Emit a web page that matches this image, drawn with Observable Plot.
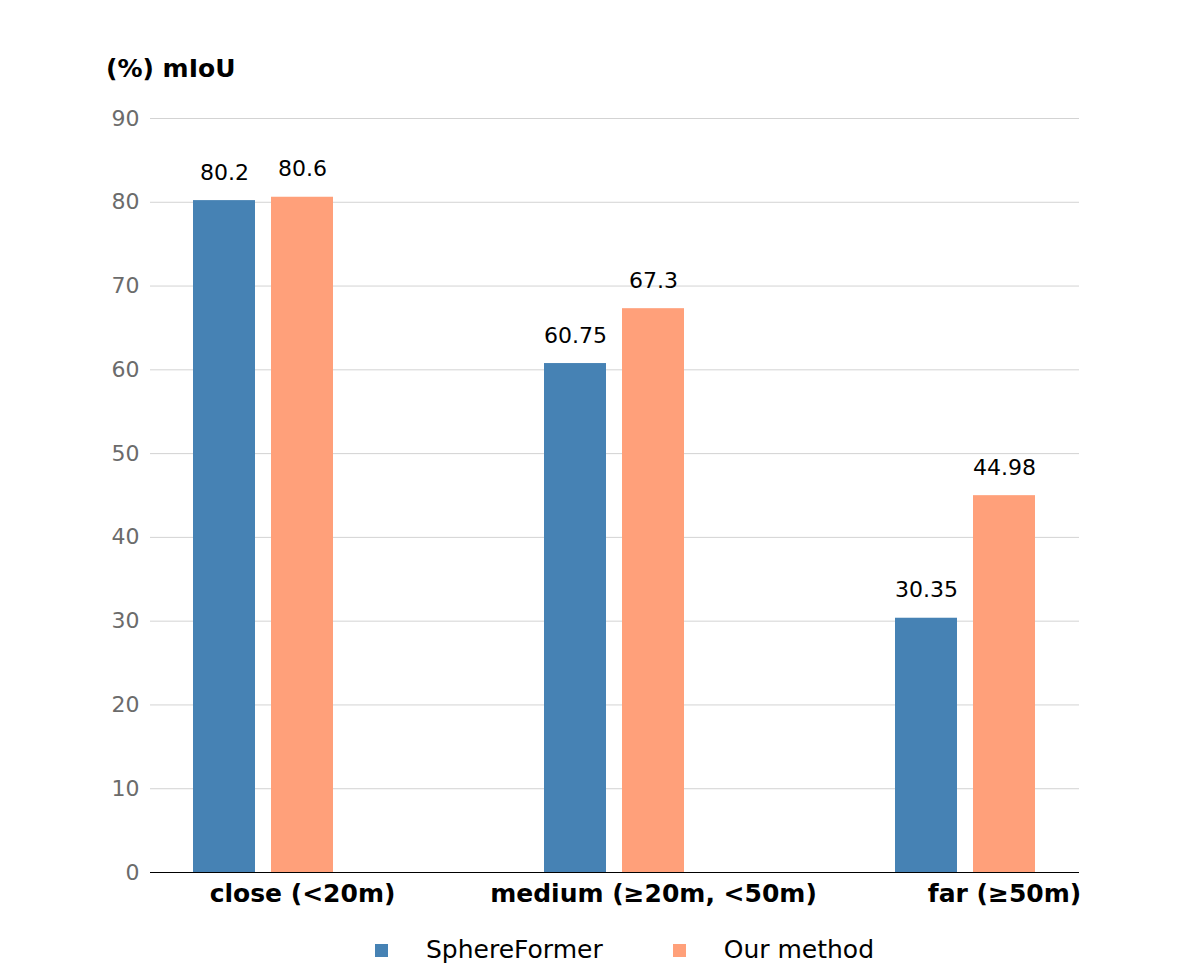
<!DOCTYPE html>
<html>
<head>
<meta charset="utf-8">
<script src="https://cdn.jsdelivr.net/npm/d3@7"></script>
<script src="https://cdn.jsdelivr.net/npm/@observablehq/plot@0.6"></script>
<style>
  body { margin: 0; background: #fff; font-family: "DejaVu Sans", sans-serif; }
  #wrap { position: relative; width: 1199px; height: 980px; overflow: hidden; }
  #ylabel { position: absolute; left: 106px; top: 55px; font-weight: bold; font-size: 25px; line-height: 28px; color: #000; }
  #chart { position: absolute; left: 0; top: 90px; }
  #legend { position: absolute; left: 375px; top: 935px; display: flex; align-items: center; font-size: 25px; line-height: 30px; color: #000; }
  .item { display: flex; align-items: center; margin-right: 70px; }
  .sw { width: 13px; height: 13px; margin-right: 38px; }
</style>
</head>
<body>
<div id="wrap">
  <div id="ylabel">(%) mIoU</div>
  <div id="chart"></div>
  <div id="legend"></div>
</div>
<script>
const categories = ["close (<20m)", "medium (≥20m, <50m)", "far (≥50m)"];
const series = ["SphereFormer", "Our method"];
const colors = ["#4682b4", "#ffa07a"];
const sphereFormerValues = [80.2, 60.75, 30.35];
const ourMethodValues = [80.6, 67.3, 44.98];
const yTicks = [0, 10, 20, 30, 40, 50, 60, 70, 80, 90];

const sphereRows = categories.map((c, i) => ({category: c, series: series[0], value: sphereFormerValues[i]}));
const ourRows = categories.map((c, i) => ({category: c, series: series[1], value: ourMethodValues[i]}));

// within each category band: two bars of equal width separated by a small gap
const barStep = 78;   // px from left edge of first bar to left edge of second
const half = barStep / 2;

const chart = Plot.plot({
  width: 1199,
  height: 830,
  marginLeft: 150,
  marginRight: 120,
  marginTop: 28,
  marginBottom: 48,
  style: {fontFamily: "DejaVu Sans, sans-serif", background: "transparent", overflow: "visible"},
  x: {domain: categories, paddingInner: 0.6, paddingOuter: 0.12, axis: null},
  y: {domain: [0, 90], axis: null},
  color: {domain: series, range: colors},
  marks: [
    Plot.gridY(yTicks, {stroke: "#d3d3d3", strokeOpacity: 1, strokeWidth: 1}),
    Plot.axisY(yTicks, {tickSize: 0, tickPadding: 11, fontSize: 22, color: "#6b6b6b", label: null}),
    Plot.barY(sphereRows, {x: "category", y: "value", fill: "series", insetRight: barStep}),
    Plot.barY(ourRows, {x: "category", y: "value", fill: "series", insetLeft: barStep}),
    Plot.ruleY([0], {stroke: "#000", strokeWidth: 1}),
    Plot.text(sphereRows, {x: "category", y: "value", text: d => String(d.value), dx: -half, dy: -28, fontSize: 22, fill: "#000"}),
    Plot.text(ourRows, {x: "category", y: "value", text: d => String(d.value), dx: half, dy: -28, fontSize: 22, fill: "#000"}),
    Plot.text(ourRows, {x: "category", frameAnchor: "bottom", text: "category", dx: half, dy: 29, fontSize: 25, fontWeight: "bold", fill: "#000"})
  ]
});
document.getElementById("chart").appendChild(chart);

const legend = document.getElementById("legend");
series.forEach((s, i) => {
  const item = document.createElement("div");
  item.className = "item";
  const sw = document.createElement("span");
  sw.className = "sw";
  sw.style.background = colors[i];
  const t = document.createElement("span");
  t.textContent = s;
  item.appendChild(sw);
  item.appendChild(t);
  legend.appendChild(item);
});
</script>
</body>
</html>
